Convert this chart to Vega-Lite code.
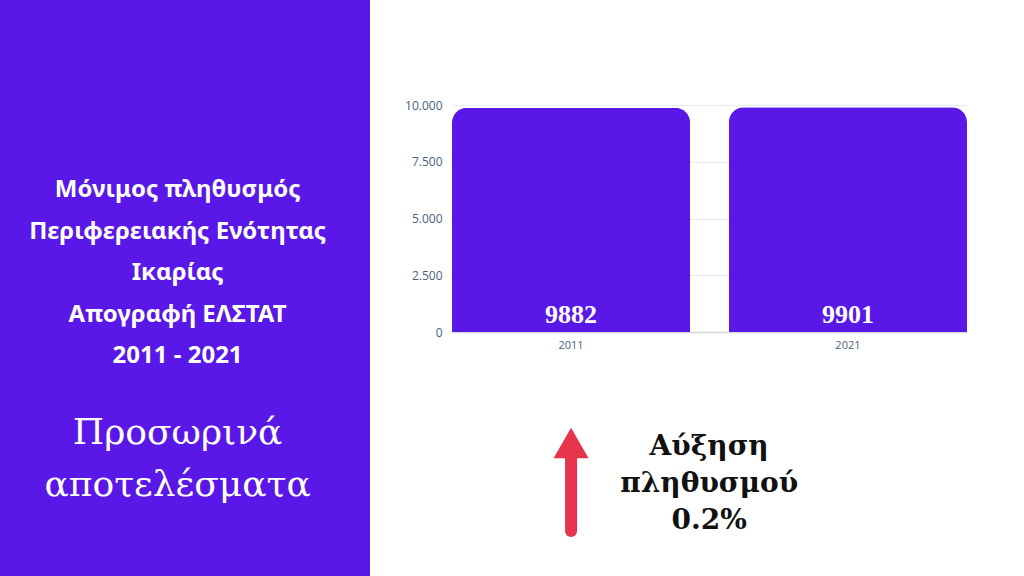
{
  "$schema": "https://vega.github.io/schema/vega-lite/v6.json",
  "background": "white",
  "padding": {"left": 0, "top": 0, "right": 57, "bottom": 0},
  "spacing": 34,
  "config": {
    "view": {"stroke": null},
    "axis": {"labelFont": "Open Sans", "labelFontSize": 12, "labelColor": "#46617f", "ticks": false, "title": null}
  },
  "hconcat": [
    {
      "width": 370,
      "height": 576,
      "view": {"fill": "#5a18e8", "stroke": null},
      "data": {"values": [
        {"block": "title", "label": "Μόνιμος πληθυσμός\nΠεριφερειακής Ενότητας\nΙκαρίας\nΑπογραφή ΕΛΣΤΑΤ\n2011 - 2021"},
        {"block": "subtitle", "label": "Προσωρινά\nαποτελέσματα"}
      ]},
      "layer": [
        {
          "transform": [{"filter": "datum.block === 'title'"}],
          "mark": {"type": "text", "lineBreak": "\n", "font": "Noto Sans", "fontWeight": "bold", "fontSize": 24, "lineHeight": 41.5, "color": "white", "align": "center", "baseline": "middle"},
          "encoding": {
            "text": {"field": "label", "type": "nominal"},
            "x": {"datum": 0.48, "type": "quantitative", "scale": {"domain": [0, 1]}, "axis": null},
            "y": {"datum": 0.33, "type": "quantitative", "scale": {"domain": [0, 1], "reverse": true}, "axis": null}
          }
        },
        {
          "transform": [{"filter": "datum.block === 'subtitle'"}],
          "mark": {"type": "text", "lineBreak": "\n", "font": "DejaVu Serif", "fontWeight": "normal", "fontSize": 36, "lineHeight": 52, "color": "white", "align": "center", "baseline": "middle"},
          "encoding": {
            "text": {"field": "label", "type": "nominal"},
            "x": {"datum": 0.48, "type": "quantitative", "scale": {"domain": [0, 1]}, "axis": null},
            "y": {"datum": 0.752, "type": "quantitative", "scale": {"domain": [0, 1], "reverse": true}, "axis": null}
          }
        }
      ]
    },
    {
      "spacing": 20,
      "vconcat": [
        {
          "width": 515,
          "height": 79,
          "data": {"values": [{}]},
          "mark": {"type": "point", "opacity": 0},
          "encoding": {}
        },
        {
          "width": 515,
          "height": 227,
          "data": {"values": [
            {"year": "2011", "population": 9882},
            {"year": "2021", "population": 9901}
          ]},
          "encoding": {
            "x": {
              "field": "year", "type": "nominal",
              "scale": {"paddingInner": 0.14, "paddingOuter": 0},
              "axis": {"labelAngle": 0, "labelPadding": 7, "labelFontSize": 11, "domainColor": "#d4d7dc", "domainWidth": 1.5}
            }
          },
          "layer": [
            {
              "mark": {"type": "bar", "color": "#5a18e8", "cornerRadiusTopLeft": 15, "cornerRadiusTopRight": 15},
              "encoding": {
                "y": {
                  "field": "population", "type": "quantitative",
                  "scale": {"domain": [0, 10000], "nice": false},
                  "axis": {"values": [0, 2500, 5000, 7500, 10000], "labelExpr": "replace(format(datum.value, ','), ',', '.')", "labelPadding": 10, "gridColor": "#e6ebf2", "domain": false}
                }
              }
            },
            {
              "mark": {"type": "text", "font": "Liberation Serif", "fontWeight": "bold", "fontSize": 26, "color": "white", "baseline": "alphabetic", "dy": -9},
              "encoding": {
                "y": {"datum": 0, "type": "quantitative", "scale": {"domain": [0, 10000], "nice": false}},
                "text": {"field": "population", "type": "quantitative", "format": "d"}
              }
            },
            {
              "transform": [{"filter": "datum.year === '2011'"}],
              "mark": {"type": "rule", "color": "#e5344b", "strokeWidth": 12, "strokeCap": "round"},
              "encoding": {
                "y": {"datum": -5286, "type": "quantitative", "scale": {"domain": [0, 10000], "nice": false}},
                "y2": {"datum": -8767}
              }
            },
            {
              "transform": [{"filter": "datum.year === '2011'"}],
              "mark": {"type": "point", "shape": "triangle-up", "filled": true, "size": 1225, "color": "#e5344b", "opacity": 1},
              "encoding": {
                "y": {"datum": -4890, "type": "quantitative", "scale": {"domain": [0, 10000], "nice": false}}
              }
            },
            {
              "transform": [{"filter": "datum.year === '2011'"}],
              "mark": {"type": "text", "text": "Αύξηση\nπληθυσμού\n0.2%", "lineBreak": "\n", "font": "DejaVu Serif", "fontWeight": "bold", "fontSize": 28, "lineHeight": 37, "color": "#111111", "align": "center", "baseline": "middle"},
              "encoding": {
                "x": {"field": "year", "type": "nominal", "bandPosition": 1.08},
                "y": {"datum": -5066, "type": "quantitative", "scale": {"domain": [0, 10000], "nice": false}}
              }
            }
          ]
        }
      ]
    }
  ]
}
